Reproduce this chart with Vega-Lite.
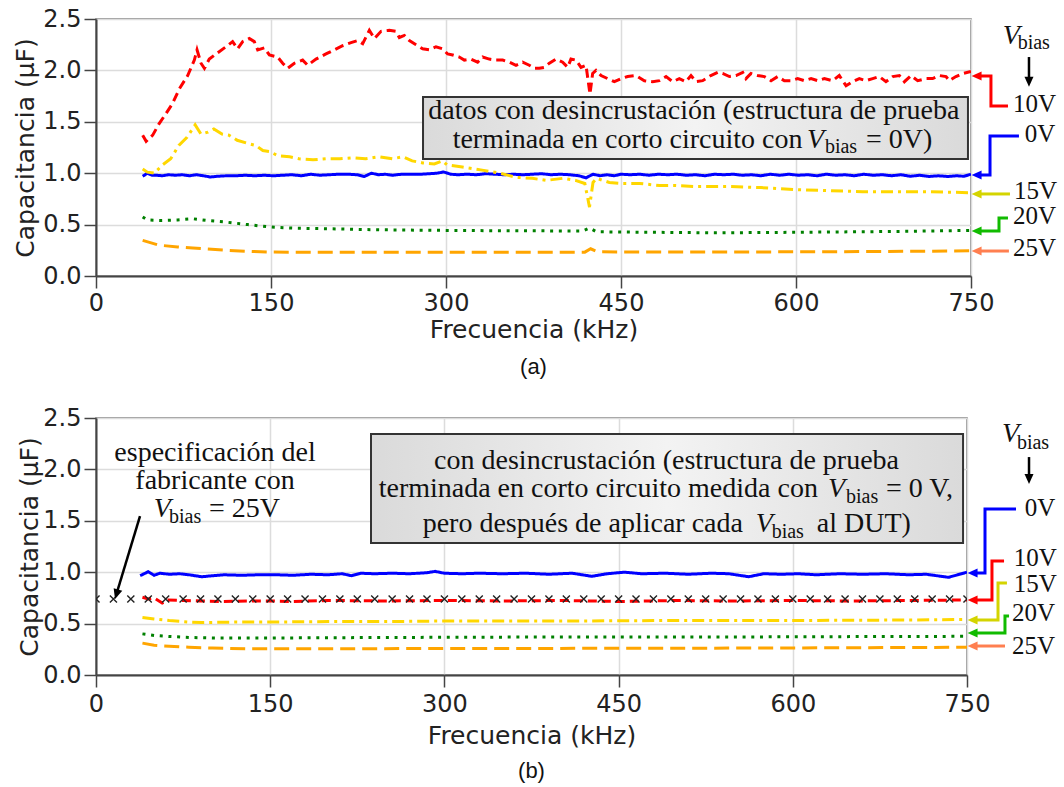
{
  "$schema": "https://vega.github.io/schema/vega-lite/v6.json",
  "background": "white",
  "padding": {"left": 13, "top": 6, "right": 0, "bottom": 0},
  "spacing": 26,
  "config": {
    "view": {"stroke": "#777", "strokeWidth": 1.5},
    "axis": {
      "labelFont": "DejaVu Sans", "labelFontSize": 24, "labelColor": "#222",
      "titleFont": "DejaVu Sans", "titleFontSize": 25, "titleFontWeight": "normal", "titleColor": "#222",
      "tickSize": 12, "tickWidth": 1.5, "tickColor": "#444",
      "domainColor": "#444", "domainWidth": 2,
      "grid": true, "gridColor": "#dcdcdc", "gridWidth": 1.5,
      "labelFlush": false, "labelPadding": 3
    },
    "title": {"font": "Liberation Sans", "fontSize": 22, "fontWeight": "normal", "color": "#111"}
  },
  "datasets": {
    "curvasA": [
      {"s":"10V","f":40,"c":1.37},{"s":"10V","f":43,"c":1.31},{"s":"10V","f":48.6,"c":1.37},{"s":"10V","f":54,"c":1.48},{"s":"10V","f":60,"c":1.58},{"s":"10V","f":65.7,"c":1.68},{"s":"10V","f":71.4,"c":1.82},{"s":"10V","f":78.6,"c":1.95},{"s":"10V","f":84.3,"c":2.10},{"s":"10V","f":86.6,"c":2.20},{"s":"10V","f":90,"c":2.07},{"s":"10V","f":92.9,"c":2.02},{"s":"10V","f":97.1,"c":2.11},{"s":"10V","f":102.9,"c":2.16},{"s":"10V","f":111.4,"c":2.23},{"s":"10V","f":117.1,"c":2.28},{"s":"10V","f":121.4,"c":2.21},{"s":"10V","f":125.7,"c":2.28},{"s":"10V","f":131.4,"c":2.31},{"s":"10V","f":135.7,"c":2.28},{"s":"10V","f":138.6,"c":2.20},{"s":"10V","f":144.3,"c":2.22},{"s":"10V","f":148.6,"c":2.15},{"s":"10V","f":155.7,"c":2.13},{"s":"10V","f":160,"c":2.07},{"s":"10V","f":164.3,"c":2.02},{"s":"10V","f":170,"c":2.07},{"s":"10V","f":177.1,"c":2.10},{"s":"10V","f":181.4,"c":2.05},{"s":"10V","f":188.6,"c":2.11},{"s":"10V","f":197.1,"c":2.16},{"s":"10V","f":204.3,"c":2.20},{"s":"10V","f":211.4,"c":2.24},{"s":"10V","f":218.6,"c":2.27},{"s":"10V","f":224.3,"c":2.29},{"s":"10V","f":228.6,"c":2.26},{"s":"10V","f":234.3,"c":2.39},{"s":"10V","f":238.6,"c":2.31},{"s":"10V","f":244.3,"c":2.38},{"s":"10V","f":251.4,"c":2.39},{"s":"10V","f":257,"c":2.38},{"s":"10V","f":260,"c":2.32},{"s":"10V","f":264.3,"c":2.34},{"s":"10V","f":268.6,"c":2.29},{"s":"10V","f":274.3,"c":2.25},{"s":"10V","f":280,"c":2.21},{"s":"10V","f":285.7,"c":2.20},{"s":"10V","f":291.4,"c":2.23},{"s":"10V","f":297.1,"c":2.21},{"s":"10V","f":301.4,"c":2.16},{"s":"10V","f":305.7,"c":2.15},{"s":"10V","f":311.4,"c":2.13},{"s":"10V","f":315.7,"c":2.10},{"s":"10V","f":321.4,"c":2.11},{"s":"10V","f":327.1,"c":2.08},{"s":"10V","f":331.4,"c":2.13},{"s":"10V","f":337.1,"c":2.11},{"s":"10V","f":342.9,"c":2.10},{"s":"10V","f":348.6,"c":2.10},{"s":"10V","f":354.3,"c":2.08},{"s":"10V","f":360,"c":2.05},{"s":"10V","f":365.7,"c":2.08},{"s":"10V","f":371.4,"c":2.05},{"s":"10V","f":375.7,"c":2.02},{"s":"10V","f":380,"c":2.02},{"s":"10V","f":384.3,"c":2.03},{"s":"10V","f":388.6,"c":2.07},{"s":"10V","f":394.3,"c":2.11},{"s":"10V","f":400,"c":2.08},{"s":"10V","f":404.3,"c":2.03},{"s":"10V","f":407.1,"c":2.11},{"s":"10V","f":411.4,"c":2.10},{"s":"10V","f":415.7,"c":2.03},{"s":"10V","f":420,"c":2.05},{"s":"10V","f":423.4,"c":1.77},{"s":"10V","f":425.7,"c":1.97},{"s":"10V","f":428.6,"c":2.00},{"s":"10V","f":432.9,"c":1.95},{"s":"10V","f":438.6,"c":1.92},{"s":"10V","f":444.3,"c":1.89},{"s":"10V","f":450,"c":1.92},{"s":"10V","f":455.7,"c":1.94},{"s":"10V","f":462.9,"c":1.95},{"s":"10V","f":470,"c":1.90},{"s":"10V","f":477.1,"c":1.89},{"s":"10V","f":482.9,"c":1.90},{"s":"10V","f":488.6,"c":1.94},{"s":"10V","f":494.3,"c":1.89},{"s":"10V","f":500,"c":1.92},{"s":"10V","f":505.7,"c":1.89},{"s":"10V","f":510,"c":1.95},{"s":"10V","f":514.3,"c":1.89},{"s":"10V","f":520,"c":1.90},{"s":"10V","f":527,"c":1.95},{"s":"10V","f":532.9,"c":1.98},{"s":"10V","f":537.1,"c":1.97},{"s":"10V","f":542.9,"c":1.94},{"s":"10V","f":548.6,"c":1.95},{"s":"10V","f":554.3,"c":1.98},{"s":"10V","f":557.1,"c":1.92},{"s":"10V","f":561.4,"c":1.97},{"s":"10V","f":567.1,"c":1.95},{"s":"10V","f":572.9,"c":1.94},{"s":"10V","f":578.6,"c":1.90},{"s":"10V","f":584.3,"c":1.94},{"s":"10V","f":590,"c":1.90},{"s":"10V","f":595.7,"c":1.90},{"s":"10V","f":601.4,"c":1.92},{"s":"10V","f":607.1,"c":1.90},{"s":"10V","f":612.9,"c":1.92},{"s":"10V","f":618.6,"c":1.90},{"s":"10V","f":624.3,"c":1.92},{"s":"10V","f":631.4,"c":1.90},{"s":"10V","f":637.1,"c":1.95},{"s":"10V","f":642.9,"c":1.85},{"s":"10V","f":648.6,"c":1.89},{"s":"10V","f":654.3,"c":1.92},{"s":"10V","f":660,"c":1.90},{"s":"10V","f":665.7,"c":1.92},{"s":"10V","f":671.4,"c":1.94},{"s":"10V","f":677.1,"c":1.89},{"s":"10V","f":682.9,"c":1.94},{"s":"10V","f":688.6,"c":1.95},{"s":"10V","f":692.9,"c":1.89},{"s":"10V","f":698.6,"c":1.95},{"s":"10V","f":704.3,"c":1.90},{"s":"10V","f":711.4,"c":1.92},{"s":"10V","f":717.1,"c":1.92},{"s":"10V","f":722.9,"c":1.95},{"s":"10V","f":728.6,"c":1.94},{"s":"10V","f":731.4,"c":1.90},{"s":"10V","f":737.1,"c":1.94},{"s":"10V","f":742.9,"c":1.97},{"s":"10V","f":750,"c":1.99},
      {"s":"0V","f":40,"c":0.97},{"s":"0V","f":44,"c":1.0},{"s":"0V","f":48,"c":0.98},{"s":"0V","f":52,"c":0.98},{"s":"0V","f":57,"c":0.975},{"s":"0V","f":62,"c":0.985},{"s":"0V","f":68,"c":0.98},{"s":"0V","f":74,"c":0.985},{"s":"0V","f":80,"c":0.975},{"s":"0V","f":86,"c":0.985},{"s":"0V","f":92,"c":0.975},{"s":"0V","f":98,"c":0.963},{"s":"0V","f":104,"c":0.97},{"s":"0V","f":112,"c":0.975},{"s":"0V","f":120,"c":0.975},{"s":"0V","f":128,"c":0.98},{"s":"0V","f":136,"c":0.975},{"s":"0V","f":144,"c":0.98},{"s":"0V","f":152,"c":0.975},{"s":"0V","f":160,"c":0.98},{"s":"0V","f":168,"c":0.985},{"s":"0V","f":176,"c":0.975},{"s":"0V","f":184,"c":0.99},{"s":"0V","f":192,"c":0.98},{"s":"0V","f":200,"c":0.985},{"s":"0V","f":208,"c":0.99},{"s":"0V","f":216,"c":0.99},{"s":"0V","f":224,"c":0.985},{"s":"0V","f":230,"c":0.968},{"s":"0V","f":236,"c":1.0},{"s":"0V","f":242,"c":0.985},{"s":"0V","f":248,"c":0.99},{"s":"0V","f":254,"c":0.98},{"s":"0V","f":262,"c":0.99},{"s":"0V","f":270,"c":0.99},{"s":"0V","f":278,"c":0.99},{"s":"0V","f":286,"c":0.995},{"s":"0V","f":292,"c":1.0},{"s":"0V","f":298,"c":1.012},{"s":"0V","f":304,"c":0.99},{"s":"0V","f":310,"c":0.985},{"s":"0V","f":318,"c":0.99},{"s":"0V","f":326,"c":0.985},{"s":"0V","f":334,"c":0.995},{"s":"0V","f":342,"c":0.99},{"s":"0V","f":350,"c":0.985},{"s":"0V","f":358,"c":0.99},{"s":"0V","f":366,"c":0.985},{"s":"0V","f":374,"c":0.99},{"s":"0V","f":382,"c":0.995},{"s":"0V","f":390,"c":0.985},{"s":"0V","f":398,"c":0.99},{"s":"0V","f":406,"c":0.985},{"s":"0V","f":414,"c":0.975},{"s":"0V","f":420,"c":0.955},{"s":"0V","f":426,"c":0.99},{"s":"0V","f":432,"c":0.975},{"s":"0V","f":438,"c":0.985},{"s":"0V","f":444,"c":0.975},{"s":"0V","f":450,"c":0.99},{"s":"0V","f":458,"c":0.985},{"s":"0V","f":466,"c":0.99},{"s":"0V","f":474,"c":0.98},{"s":"0V","f":482,"c":0.99},{"s":"0V","f":490,"c":0.985},{"s":"0V","f":498,"c":0.99},{"s":"0V","f":506,"c":0.98},{"s":"0V","f":514,"c":0.985},{"s":"0V","f":522,"c":0.975},{"s":"0V","f":530,"c":0.99},{"s":"0V","f":538,"c":0.985},{"s":"0V","f":546,"c":0.99},{"s":"0V","f":554,"c":0.98},{"s":"0V","f":562,"c":0.985},{"s":"0V","f":570,"c":0.975},{"s":"0V","f":578,"c":0.99},{"s":"0V","f":586,"c":0.98},{"s":"0V","f":594,"c":0.99},{"s":"0V","f":602,"c":0.98},{"s":"0V","f":610,"c":0.985},{"s":"0V","f":618,"c":0.975},{"s":"0V","f":626,"c":0.99},{"s":"0V","f":634,"c":0.98},{"s":"0V","f":642,"c":0.985},{"s":"0V","f":650,"c":0.975},{"s":"0V","f":658,"c":0.99},{"s":"0V","f":666,"c":0.98},{"s":"0V","f":674,"c":0.985},{"s":"0V","f":682,"c":0.975},{"s":"0V","f":690,"c":0.985},{"s":"0V","f":698,"c":0.97},{"s":"0V","f":706,"c":0.98},{"s":"0V","f":714,"c":0.968},{"s":"0V","f":722,"c":0.975},{"s":"0V","f":730,"c":0.968},{"s":"0V","f":738,"c":0.975},{"s":"0V","f":744,"c":0.97},{"s":"0V","f":750,"c":0.99},
      {"s":"15V","f":40,"c":1.04},{"s":"15V","f":44,"c":1.01},{"s":"15V","f":50,"c":1.0},{"s":"15V","f":57,"c":1.08},{"s":"15V","f":64,"c":1.14},{"s":"15V","f":71,"c":1.27},{"s":"15V","f":78,"c":1.35},{"s":"15V","f":85,"c":1.47},{"s":"15V","f":90,"c":1.38},{"s":"15V","f":96,"c":1.40},{"s":"15V","f":101,"c":1.43},{"s":"15V","f":108,"c":1.38},{"s":"15V","f":114,"c":1.37},{"s":"15V","f":121,"c":1.32},{"s":"15V","f":130,"c":1.29},{"s":"15V","f":137,"c":1.27},{"s":"15V","f":143,"c":1.22},{"s":"15V","f":149,"c":1.21},{"s":"15V","f":156,"c":1.17},{"s":"15V","f":166,"c":1.16},{"s":"15V","f":174,"c":1.14},{"s":"15V","f":186,"c":1.13},{"s":"15V","f":197,"c":1.14},{"s":"15V","f":209,"c":1.14},{"s":"15V","f":220,"c":1.15},{"s":"15V","f":231,"c":1.14},{"s":"15V","f":243,"c":1.16},{"s":"15V","f":254,"c":1.14},{"s":"15V","f":263,"c":1.16},{"s":"15V","f":271,"c":1.12},{"s":"15V","f":280,"c":1.10},{"s":"15V","f":290,"c":1.09},{"s":"15V","f":297,"c":1.12},{"s":"15V","f":301,"c":1.08},{"s":"15V","f":314,"c":1.06},{"s":"15V","f":331,"c":1.03},{"s":"15V","f":346,"c":1.00},{"s":"15V","f":360,"c":0.96},{"s":"15V","f":374,"c":0.95},{"s":"15V","f":386,"c":0.93},{"s":"15V","f":400,"c":0.95},{"s":"15V","f":411,"c":0.93},{"s":"15V","f":419,"c":0.90},{"s":"15V","f":423,"c":0.67},{"s":"15V","f":426,"c":0.91},{"s":"15V","f":429,"c":0.95},{"s":"15V","f":440,"c":0.91},{"s":"15V","f":451,"c":0.90},{"s":"15V","f":466,"c":0.90},{"s":"15V","f":483,"c":0.88},{"s":"15V","f":497,"c":0.88},{"s":"15V","f":514,"c":0.87},{"s":"15V","f":526,"c":0.87},{"s":"15V","f":543,"c":0.87},{"s":"15V","f":570,"c":0.86},{"s":"15V","f":600,"c":0.84},{"s":"15V","f":630,"c":0.83},{"s":"15V","f":657,"c":0.82},{"s":"15V","f":690,"c":0.82},{"s":"15V","f":714,"c":0.82},{"s":"15V","f":750,"c":0.81},
      {"s":"20V","f":40,"c":0.574},{"s":"20V","f":44,"c":0.545},{"s":"20V","f":55,"c":0.54},{"s":"20V","f":70,"c":0.545},{"s":"20V","f":83,"c":0.557},{"s":"20V","f":95,"c":0.54},{"s":"20V","f":111,"c":0.525},{"s":"20V","f":130,"c":0.50},{"s":"20V","f":149,"c":0.477},{"s":"20V","f":170,"c":0.465},{"s":"20V","f":197,"c":0.46},{"s":"20V","f":240,"c":0.45},{"s":"20V","f":283,"c":0.445},{"s":"20V","f":350,"c":0.44},{"s":"20V","f":417,"c":0.438},{"s":"20V","f":423,"c":0.467},{"s":"20V","f":429,"c":0.43},{"s":"20V","f":480,"c":0.425},{"s":"20V","f":531,"c":0.42},{"s":"20V","f":600,"c":0.425},{"s":"20V","f":700,"c":0.435},{"s":"20V","f":750,"c":0.444},
      {"s":"25V","f":40,"c":0.347},{"s":"25V","f":54,"c":0.30},{"s":"25V","f":70,"c":0.283},{"s":"25V","f":83,"c":0.272},{"s":"25V","f":111,"c":0.25},{"s":"25V","f":130,"c":0.24},{"s":"25V","f":149,"c":0.233},{"s":"25V","f":200,"c":0.23},{"s":"25V","f":300,"c":0.23},{"s":"25V","f":419,"c":0.232},{"s":"25V","f":424,"c":0.265},{"s":"25V","f":430,"c":0.235},{"s":"25V","f":500,"c":0.233},{"s":"25V","f":600,"c":0.235},{"s":"25V","f":700,"c":0.24},{"s":"25V","f":750,"c":0.245}
    ],
    "curvasB": [
      {"s":"0V","f":38,"c":0.966},{"s":"0V","f":45,"c":1.005},{"s":"0V","f":50,"c":0.97},{"s":"0V","f":55,"c":0.99},{"s":"0V","f":63,"c":0.98},{"s":"0V","f":72,"c":0.985},{"s":"0V","f":80,"c":0.975},{"s":"0V","f":91,"c":0.956},{"s":"0V","f":100,"c":0.965},{"s":"0V","f":110,"c":0.975},{"s":"0V","f":125,"c":0.97},{"s":"0V","f":140,"c":0.975},{"s":"0V","f":155,"c":0.975},{"s":"0V","f":170,"c":0.97},{"s":"0V","f":185,"c":0.98},{"s":"0V","f":200,"c":0.975},{"s":"0V","f":212,"c":0.985},{"s":"0V","f":220,"c":0.966},{"s":"0V","f":228,"c":0.99},{"s":"0V","f":240,"c":0.985},{"s":"0V","f":255,"c":0.99},{"s":"0V","f":270,"c":0.985},{"s":"0V","f":285,"c":0.995},{"s":"0V","f":292,"c":1.008},{"s":"0V","f":300,"c":0.99},{"s":"0V","f":315,"c":0.985},{"s":"0V","f":330,"c":0.99},{"s":"0V","f":350,"c":0.985},{"s":"0V","f":370,"c":0.99},{"s":"0V","f":390,"c":0.98},{"s":"0V","f":410,"c":0.99},{"s":"0V","f":427,"c":0.96},{"s":"0V","f":440,"c":0.985},{"s":"0V","f":455,"c":1.0},{"s":"0V","f":470,"c":0.985},{"s":"0V","f":490,"c":0.99},{"s":"0V","f":510,"c":0.98},{"s":"0V","f":530,"c":0.99},{"s":"0V","f":545,"c":0.985},{"s":"0V","f":562,"c":0.956},{"s":"0V","f":575,"c":0.985},{"s":"0V","f":590,"c":0.98},{"s":"0V","f":605,"c":0.985},{"s":"0V","f":620,"c":0.975},{"s":"0V","f":640,"c":0.985},{"s":"0V","f":660,"c":0.98},{"s":"0V","f":680,"c":0.985},{"s":"0V","f":700,"c":0.975},{"s":"0V","f":715,"c":0.98},{"s":"0V","f":734,"c":0.95},{"s":"0V","f":742,"c":0.975},{"s":"0V","f":750,"c":1.0},
      {"s":"10V","f":40,"c":0.756},{"s":"10V","f":45,"c":0.74},{"s":"10V","f":50,"c":0.75},{"s":"10V","f":57,"c":0.70},{"s":"10V","f":62,"c":0.73},{"s":"10V","f":75,"c":0.725},{"s":"10V","f":90,"c":0.72},{"s":"10V","f":110,"c":0.715},{"s":"10V","f":130,"c":0.72},{"s":"10V","f":150,"c":0.72},{"s":"10V","f":170,"c":0.715},{"s":"10V","f":200,"c":0.725},{"s":"10V","f":250,"c":0.72},{"s":"10V","f":300,"c":0.725},{"s":"10V","f":350,"c":0.72},{"s":"10V","f":400,"c":0.725},{"s":"10V","f":450,"c":0.715},{"s":"10V","f":500,"c":0.725},{"s":"10V","f":550,"c":0.72},{"s":"10V","f":600,"c":0.725},{"s":"10V","f":650,"c":0.72},{"s":"10V","f":700,"c":0.725},{"s":"10V","f":750,"c":0.73},
      {"s":"15V","f":40,"c":0.56},{"s":"15V","f":50,"c":0.545},{"s":"15V","f":63,"c":0.53},{"s":"15V","f":80,"c":0.515},{"s":"15V","f":91,"c":0.51},{"s":"15V","f":120,"c":0.515},{"s":"15V","f":150,"c":0.515},{"s":"15V","f":200,"c":0.52},{"s":"15V","f":250,"c":0.52},{"s":"15V","f":300,"c":0.525},{"s":"15V","f":400,"c":0.525},{"s":"15V","f":500,"c":0.53},{"s":"15V","f":600,"c":0.53},{"s":"15V","f":700,"c":0.535},{"s":"15V","f":750,"c":0.54},
      {"s":"20V","f":40,"c":0.40},{"s":"20V","f":50,"c":0.385},{"s":"20V","f":63,"c":0.375},{"s":"20V","f":80,"c":0.365},{"s":"20V","f":100,"c":0.36},{"s":"20V","f":150,"c":0.36},{"s":"20V","f":250,"c":0.365},{"s":"20V","f":400,"c":0.37},{"s":"20V","f":550,"c":0.37},{"s":"20V","f":700,"c":0.375},{"s":"20V","f":750,"c":0.376},
      {"s":"25V","f":40,"c":0.31},{"s":"25V","f":50,"c":0.29},{"s":"25V","f":63,"c":0.28},{"s":"25V","f":80,"c":0.27},{"s":"25V","f":100,"c":0.262},{"s":"25V","f":130,"c":0.255},{"s":"25V","f":200,"c":0.255},{"s":"25V","f":300,"c":0.258},{"s":"25V","f":500,"c":0.26},{"s":"25V","f":650,"c":0.265},{"s":"25V","f":750,"c":0.27}
    ],
    "cruces": [
      {"f":0,"c":0.74},{"f":15,"c":0.74},{"f":30,"c":0.74},{"f":45,"c":0.74},{"f":60,"c":0.74},{"f":75,"c":0.74},{"f":90,"c":0.74},{"f":105,"c":0.74},{"f":120,"c":0.74},{"f":135,"c":0.74},{"f":150,"c":0.74},{"f":165,"c":0.74},{"f":180,"c":0.74},{"f":195,"c":0.74},{"f":210,"c":0.74},{"f":225,"c":0.74},{"f":240,"c":0.74},{"f":255,"c":0.74},{"f":270,"c":0.74},{"f":285,"c":0.74},{"f":300,"c":0.74},{"f":315,"c":0.74},{"f":330,"c":0.74},{"f":345,"c":0.74},{"f":360,"c":0.74},{"f":375,"c":0.74},{"f":390,"c":0.74},{"f":405,"c":0.74},{"f":420,"c":0.74},{"f":435,"c":0.74},{"f":450,"c":0.74},{"f":465,"c":0.74},{"f":480,"c":0.74},{"f":495,"c":0.74},{"f":510,"c":0.74},{"f":525,"c":0.74},{"f":540,"c":0.74},{"f":555,"c":0.74},{"f":570,"c":0.74},{"f":585,"c":0.74},{"f":600,"c":0.74},{"f":615,"c":0.74},{"f":630,"c":0.74},{"f":645,"c":0.74},{"f":660,"c":0.74},{"f":675,"c":0.74},{"f":690,"c":0.74},{"f":705,"c":0.74},{"f":720,"c":0.74},{"f":735,"c":0.74},{"f":750,"c":0.74}
    ],
    "flechasA": [
      {"s":"10V","o":1,"f":757,"c":1.946},{"s":"10V","o":2,"f":767.1,"c":1.946},{"s":"10V","o":3,"f":767.1,"c":1.654},{"s":"10V","o":4,"f":781.7,"c":1.654},
      {"s":"0V","o":1,"f":757,"c":0.982},{"s":"0V","o":2,"f":766.3,"c":0.982},{"s":"0V","o":3,"f":766.3,"c":1.362},{"s":"0V","o":4,"f":791.1,"c":1.362},
      {"s":"15V","o":1,"f":757,"c":0.798},{"s":"15V","o":2,"f":783.4,"c":0.798},
      {"s":"20V","o":1,"f":757,"c":0.438},{"s":"20V","o":2,"f":774,"c":0.438},{"s":"20V","o":3,"f":774,"c":0.564},{"s":"20V","o":4,"f":781.7,"c":0.564},
      {"s":"25V","o":1,"f":757,"c":0.243},{"s":"25V","o":2,"f":782.5,"c":0.243}
    ],
    "flechasB": [
      {"s":"0V","o":1,"f":757,"c":0.992},{"s":"0V","o":2,"f":765.5,"c":0.992},{"s":"0V","o":3,"f":765.5,"c":1.615},{"s":"0V","o":4,"f":792.2,"c":1.615},
      {"s":"10V","o":1,"f":757,"c":0.73},{"s":"10V","o":2,"f":771.5,"c":0.73},{"s":"10V","o":3,"f":771.5,"c":1.109},{"s":"10V","o":4,"f":781.9,"c":1.109},
      {"s":"15V","o":1,"f":757,"c":0.535},{"s":"15V","o":2,"f":776.7,"c":0.535},{"s":"15V","o":3,"f":776.7,"c":0.895},{"s":"15V","o":4,"f":784.4,"c":0.895},
      {"s":"20V","o":1,"f":757,"c":0.409},{"s":"20V","o":2,"f":782.7,"c":0.409},{"s":"20V","o":3,"f":782.7,"c":0.574},{"s":"20V","o":4,"f":786.2,"c":0.574},
      {"s":"25V","o":1,"f":757,"c":0.282},{"s":"25V","o":2,"f":782.7,"c":0.282}
    ],
    "puntasA": [
      {"s":"10V","f":750.5,"c":1.946,"dir":"izq"},{"s":"0V","f":750.5,"c":0.982,"dir":"izq"},{"s":"15V","f":750.5,"c":0.798,"dir":"izq"},{"s":"20V","f":750.5,"c":0.438,"dir":"izq"},{"s":"25V","f":750.5,"c":0.243,"dir":"izq"},
      {"s":"vb","f":799.7,"c":1.84,"dir":"abajo"}
    ],
    "puntasB": [
      {"s":"0V","f":750.5,"c":0.992,"dir":"izq"},{"s":"10V","f":750.5,"c":0.73,"dir":"izq"},{"s":"15V","f":750.5,"c":0.535,"dir":"izq"},{"s":"20V","f":750.5,"c":0.409,"dir":"izq"},{"s":"25V","f":750.5,"c":0.282,"dir":"izq"},
      {"s":"vb","f":803.4,"c":1.858,"dir":"abajo"},
      {"s":"esp","f":16.4,"c":0.739,"dir":"diag"}
    ],
    "ejesA": [
      {"g":"vb","o":1,"f":799.7,"c":2.13},{"g":"vb","o":2,"f":799.7,"c":1.9}
    ],
    "ejesB": [
      {"g":"vb","o":1,"f":803.4,"c":2.12},{"g":"vb","o":2,"f":803.4,"c":1.92},
      {"g":"esp","o":1,"f":37.9,"c":1.546},{"g":"esp","o":2,"f":18.3,"c":0.814}
    ],
    "cajaA": [{"f":280.3,"f2":747.4,"c":1.741,"c2":1.138}],
    "cajaB": [{"f":236.8,"f2":746.6,"c":2.344,"c2":1.284}],
    "textoA": [
      {"t":"datos con desincrustación (estructura de prueba","f":512.4,"c":1.527,"k":"c"},
      {"t":"terminada en corto circuito con","f":305.7,"c":1.25,"k":"l"},
      {"t":"V","f":609.4,"c":1.25,"k":"i"},
      {"t":"bias","f":624.8,"c":1.192,"k":"s"},
      {"t":"= 0V)","f":660,"c":1.25,"k":"l"},
      {"t":"V","f":777.2,"c":2.26,"k":"i"},
      {"t":"bias","f":790,"c":2.211,"k":"s"},
      {"t":"10V","f":786,"c":1.595,"k":"e"},
      {"t":"0V","f":796,"c":1.30,"k":"e"},
      {"t":"15V","f":786.9,"c":0.749,"k":"e"},
      {"t":"20V","f":786,"c":0.509,"k":"e"},
      {"t":"25V","f":786,"c":0.195,"k":"e"}
    ],
    "textoB": [
      {"t":"con desincrustación (estructura de prueba","f":491.3,"c":2.004,"k":"c"},
      {"t":"terminada en corto circuito medida con","f":243.4,"c":1.732,"k":"l"},
      {"t":"V","f":630.3,"c":1.732,"k":"i"},
      {"t":"bias","f":645.8,"c":1.673,"k":"s"},
      {"t":"= 0 V,","f":680.3,"c":1.732,"k":"l"},
      {"t":"pero después de aplicar cada","f":281.3,"c":1.391,"k":"l"},
      {"t":"V","f":568,"c":1.391,"k":"i"},
      {"t":"bias","f":581.8,"c":1.333,"k":"s"},
      {"t":"al DUT)","f":620.7,"c":1.391,"k":"l"},
      {"t":"especificación del","f":102.5,"c":2.082,"k":"c"},
      {"t":"fabricante con","f":102.5,"c":1.809,"k":"c"},
      {"t":"V","f":49.7,"c":1.537,"k":"i"},
      {"t":"bias","f":62.9,"c":1.479,"k":"s"},
      {"t":"= 25V","f":97.3,"c":1.537,"k":"l"},
      {"t":"V","f":780.2,"c":2.267,"k":"i"},
      {"t":"bias","f":793,"c":2.198,"k":"s"},
      {"t":"0V","f":799.7,"c":1.55,"k":"e"},
      {"t":"10V","f":790.2,"c":1.063,"k":"e"},
      {"t":"15V","f":790.2,"c":0.804,"k":"e"},
      {"t":"20V","f":788.8,"c":0.528,"k":"e"},
      {"t":"25V","f":788.8,"c":0.204,"k":"e"}
    ]
  },
  "vconcat": [
    {
      "width": 875,
      "height": 257,
      "title": {"text": "(a)", "orient": "bottom", "offset": 15},
      "encoding": {
        "x": {"field": "f", "type": "quantitative", "scale": {"domain": [0, 750], "nice": false, "zero": false},
              "axis": {"values": [0, 150, 300, 450, 600, 750], "title": "Frecuencia (kHz)", "titlePadding": 2}},
        "y": {"field": "c", "type": "quantitative", "scale": {"domain": [0, 2.5], "nice": false},
              "axis": {"values": [0, 0.5, 1, 1.5, 2, 2.5], "format": ".1f", "title": "Capacitancia (µF)", "titlePadding": 4}}
      },
      "layer": [
        {
          "data": {"name": "curvasA"},
          "mark": {"type": "line", "strokeWidth": 3, "clip": true},
          "encoding": {
            "color": {"field": "s", "type": "nominal", "legend": null,
                      "scale": {"domain": ["0V", "10V", "15V", "20V", "25V"], "range": ["#0000ff", "#ff0000", "#ffd700", "#008000", "#ffa500"]}},
            "strokeDash": {"field": "s", "type": "nominal", "legend": null,
                      "scale": {"domain": ["0V", "10V", "15V", "20V", "25V"], "range": [[1, 0], [9, 5], [12, 5, 3, 5], [3, 5.7], [15, 7]]}}
          }
        },
        {
          "data": {"name": "cajaA"},
          "mark": {"type": "rect", "stroke": "#333", "strokeWidth": 2,
                   "fill": {"gradient": "linear", "x1": 0, "y1": 0, "x2": 1, "y2": 0,
                            "stops": [{"offset": 0, "color": "#dadada"}, {"offset": 0.5, "color": "#f3f3f3"}, {"offset": 1, "color": "#dadada"}]}},
          "encoding": {"x2": {"field": "f2"}, "y2": {"field": "c2"}}
        },
        {
          "data": {"name": "textoA"},
          "transform": [{"filter": "datum.k === 'c'"}],
          "mark": {"type": "text", "font": "Liberation Serif", "fontSize": 28, "align": "center", "baseline": "alphabetic", "color": "#111"},
          "encoding": {"text": {"field": "t"}}
        },
        {
          "data": {"name": "textoA"},
          "transform": [{"filter": "datum.k === 'l'"}],
          "mark": {"type": "text", "font": "Liberation Serif", "fontSize": 28, "align": "left", "baseline": "alphabetic", "color": "#111"},
          "encoding": {"text": {"field": "t"}}
        },
        {
          "data": {"name": "textoA"},
          "transform": [{"filter": "datum.k === 'i'"}],
          "mark": {"type": "text", "font": "Liberation Serif", "fontStyle": "italic", "fontSize": 28, "align": "left", "baseline": "alphabetic", "color": "#111"},
          "encoding": {"text": {"field": "t"}}
        },
        {
          "data": {"name": "textoA"},
          "transform": [{"filter": "datum.k === 's'"}],
          "mark": {"type": "text", "font": "Liberation Serif", "fontSize": 20, "align": "left", "baseline": "alphabetic", "color": "#111"},
          "encoding": {"text": {"field": "t"}}
        },
        {
          "data": {"name": "textoA"},
          "transform": [{"filter": "datum.k === 'e'"}],
          "mark": {"type": "text", "font": "Liberation Serif", "fontSize": 25, "align": "left", "baseline": "alphabetic", "color": "#111"},
          "encoding": {"text": {"field": "t"}}
        },
        {
          "data": {"name": "flechasA"},
          "mark": {"type": "line", "strokeWidth": 3, "strokeJoin": "miter"},
          "encoding": {
            "color": {"field": "s", "type": "nominal", "legend": null,
                      "scale": {"domain": ["0V", "10V", "15V", "20V", "25V"], "range": ["#0000ff", "#ff0000", "#d4d400", "#11bb00", "#ff7f50"]}},
            "order": {"field": "o", "type": "quantitative"}
          }
        },
        {
          "data": {"name": "puntasA"},
          "transform": [{"filter": "datum.dir === 'izq'"}],
          "mark": {"type": "point", "shape": "M0,0L1,-0.45L1,0.45Z", "filled": true, "opacity": 1, "size": 400},
          "encoding": {
            "color": {"field": "s", "type": "nominal", "legend": null,
                      "scale": {"domain": ["0V", "10V", "15V", "20V", "25V"], "range": ["#0000ff", "#ff0000", "#d4d400", "#11bb00", "#ff7f50"]}}
          }
        },
        {
          "data": {"name": "ejesA"},
          "mark": {"type": "line", "color": "#000", "strokeWidth": 2.5},
          "encoding": {"detail": {"field": "g"}, "order": {"field": "o", "type": "quantitative"}}
        },
        {
          "data": {"name": "puntasA"},
          "transform": [{"filter": "datum.dir === 'abajo'"}],
          "mark": {"type": "point", "shape": "M0,0L1,-0.45L1,0.45Z", "filled": true, "opacity": 1, "size": 400, "angle": 270, "color": "#000"}
        }
      ],
      "resolve": {"scale": {"color": "independent"}}
    },
    {
      "width": 871,
      "height": 257,
      "title": {"text": "(b)", "orient": "bottom", "offset": 13},
      "encoding": {
        "x": {"field": "f", "type": "quantitative", "scale": {"domain": [0, 750], "nice": false, "zero": false},
              "axis": {"values": [0, 150, 300, 450, 600, 750], "title": "Frecuencia (kHz)", "titlePadding": 7, "labelPadding": 5}},
        "y": {"field": "c", "type": "quantitative", "scale": {"domain": [0, 2.5], "nice": false},
              "axis": {"values": [0, 0.5, 1, 1.5, 2, 2.5], "format": ".1f", "title": "Capacitancia (µF)", "titlePadding": 0}}
      },
      "layer": [
        {
          "data": {"name": "curvasB"},
          "mark": {"type": "line", "strokeWidth": 3, "clip": true},
          "encoding": {
            "color": {"field": "s", "type": "nominal", "legend": null,
                      "scale": {"domain": ["0V", "10V", "15V", "20V", "25V"], "range": ["#0000ff", "#ff0000", "#ffd700", "#008000", "#ffa500"]}},
            "strokeDash": {"field": "s", "type": "nominal", "legend": null,
                      "scale": {"domain": ["0V", "10V", "15V", "20V", "25V"], "range": [[1, 0], [9, 5], [12, 5, 3, 5], [3, 5.7], [15, 7]]}}
          }
        },
        {
          "data": {"name": "cruces"},
          "mark": {"type": "point", "shape": "M-1,-1L1,1M-1,1L1,-1", "filled": false, "opacity": 1, "size": 50, "strokeWidth": 1.4, "color": "#222", "clip": true}
        },
        {
          "data": {"name": "cajaB"},
          "mark": {"type": "rect", "stroke": "#333", "strokeWidth": 2,
                   "fill": {"gradient": "linear", "x1": 0, "y1": 0, "x2": 1, "y2": 0,
                            "stops": [{"offset": 0, "color": "#dadada"}, {"offset": 0.5, "color": "#f3f3f3"}, {"offset": 1, "color": "#dadada"}]}},
          "encoding": {"x2": {"field": "f2"}, "y2": {"field": "c2"}}
        },
        {
          "data": {"name": "textoB"},
          "transform": [{"filter": "datum.k === 'c'"}],
          "mark": {"type": "text", "font": "Liberation Serif", "fontSize": 28, "align": "center", "baseline": "alphabetic", "color": "#111"},
          "encoding": {"text": {"field": "t"}}
        },
        {
          "data": {"name": "textoB"},
          "transform": [{"filter": "datum.k === 'l'"}],
          "mark": {"type": "text", "font": "Liberation Serif", "fontSize": 28, "align": "left", "baseline": "alphabetic", "color": "#111"},
          "encoding": {"text": {"field": "t"}}
        },
        {
          "data": {"name": "textoB"},
          "transform": [{"filter": "datum.k === 'i'"}],
          "mark": {"type": "text", "font": "Liberation Serif", "fontStyle": "italic", "fontSize": 28, "align": "left", "baseline": "alphabetic", "color": "#111"},
          "encoding": {"text": {"field": "t"}}
        },
        {
          "data": {"name": "textoB"},
          "transform": [{"filter": "datum.k === 's'"}],
          "mark": {"type": "text", "font": "Liberation Serif", "fontSize": 20, "align": "left", "baseline": "alphabetic", "color": "#111"},
          "encoding": {"text": {"field": "t"}}
        },
        {
          "data": {"name": "textoB"},
          "transform": [{"filter": "datum.k === 'e'"}],
          "mark": {"type": "text", "font": "Liberation Serif", "fontSize": 25, "align": "left", "baseline": "alphabetic", "color": "#111"},
          "encoding": {"text": {"field": "t"}}
        },
        {
          "data": {"name": "flechasB"},
          "mark": {"type": "line", "strokeWidth": 3, "strokeJoin": "miter"},
          "encoding": {
            "color": {"field": "s", "type": "nominal", "legend": null,
                      "scale": {"domain": ["0V", "10V", "15V", "20V", "25V"], "range": ["#0000ff", "#ff0000", "#d4d400", "#11bb00", "#ff7f50"]}},
            "order": {"field": "o", "type": "quantitative"}
          }
        },
        {
          "data": {"name": "puntasB"},
          "transform": [{"filter": "datum.dir === 'izq'"}],
          "mark": {"type": "point", "shape": "M0,0L1,-0.45L1,0.45Z", "filled": true, "opacity": 1, "size": 400},
          "encoding": {
            "color": {"field": "s", "type": "nominal", "legend": null,
                      "scale": {"domain": ["0V", "10V", "15V", "20V", "25V"], "range": ["#0000ff", "#ff0000", "#d4d400", "#11bb00", "#ff7f50"]}}
          }
        },
        {
          "data": {"name": "ejesB"},
          "mark": {"type": "line", "color": "#000", "strokeWidth": 2.5},
          "encoding": {"detail": {"field": "g"}, "order": {"field": "o", "type": "quantitative"}}
        },
        {
          "data": {"name": "puntasB"},
          "transform": [{"filter": "datum.dir === 'abajo'"}],
          "mark": {"type": "point", "shape": "M0,0L1,-0.45L1,0.45Z", "filled": true, "opacity": 1, "size": 400, "angle": 270, "color": "#000"}
        },
        {
          "data": {"name": "puntasB"},
          "transform": [{"filter": "datum.dir === 'diag'"}],
          "mark": {"type": "point", "shape": "M0,0L1,-0.45L1,0.45Z", "filled": true, "opacity": 1, "size": 400, "angle": 287, "color": "#000"}
        }
      ],
      "resolve": {"scale": {"color": "independent"}}
    }
  ]
}
